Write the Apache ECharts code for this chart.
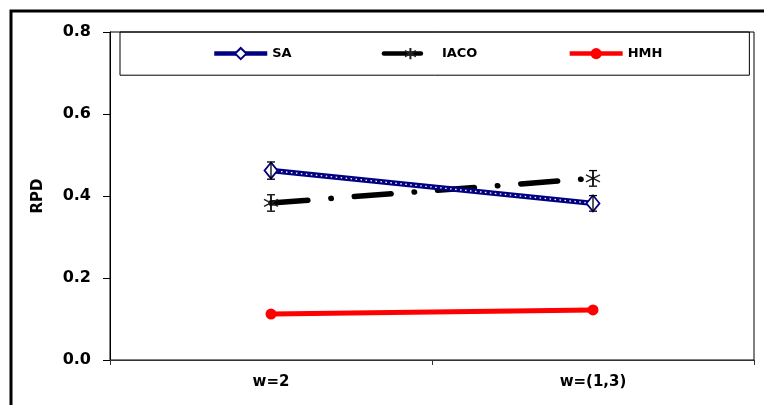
<!DOCTYPE html>
<html>
<head>
<meta charset="utf-8">
<script src="https://cdn.jsdelivr.net/npm/echarts@6/dist/echarts.min.js"></script>
<style>
  html, body { margin: 0; padding: 0; background: #fff; }
  #chart { width: 764px; height: 405px; }
</style>
</head>
<body>
<div id="chart"></div>
<script>
// data
const categories = ['w=2', 'w=(1,3)'];
const saValues = [0.462, 0.382];
const saErr = [0.021, 0.019];
const iacoValues = [0.383, 0.443];
const iacoErr = [0.02, 0.019];
const hmhValues = [0.112, 0.122];
const yTicks = [0, 0.2, 0.4, 0.6, 0.8];

const FONT = 'DejaVu Sans, Verdana, sans-serif';
const ASTERISK = 'path://M0,-10L0,10M-8.66,-5L8.66,5M-8.66,5L8.66,-5';

// error bars drawn through the axes
function errorBars(values, errs) {
  return {
    type: 'custom',
    silent: true,
    z: 5,
    data: values.map((v, i) => [i, v - errs[i], v + errs[i]]),
    renderItem: (params, api) => {
      const lo = api.coord([api.value(0), api.value(1)]);
      const hi = api.coord([api.value(0), api.value(2)]);
      const cap = 4;
      const st = { stroke: '#000', lineWidth: 1.3 };
      return {
        type: 'group',
        children: [
          { type: 'line', shape: { x1: lo[0], y1: lo[1], x2: hi[0], y2: hi[1] }, style: st },
          { type: 'line', shape: { x1: lo[0] - cap, y1: lo[1], x2: lo[0] + cap, y2: lo[1] }, style: st },
          { type: 'line', shape: { x1: hi[0] - cap, y1: hi[1], x2: hi[0] + cap, y2: hi[1] }, style: st }
        ]
      };
    }
  };
}

const chart = echarts.init(document.getElementById('chart'), null, { renderer: 'canvas' });

chart.setOption({
  animation: false,
  backgroundColor: '#fff',
  graphic: [{
    type: 'rect',
    shape: { x: 11, y: 11, width: 800, height: 450 },
    style: { fill: 'none', stroke: '#000', lineWidth: 3 },
    silent: true
  }],
  grid: {
    left: 110, right: 10, top: 32, bottom: 45,
    show: true, borderColor: '#000', borderWidth: 1
  },
  legend: {
    data: ['SA', 'IACO', 'HMH'],
    left: 120, top: 32,
    padding: [15, 87, 15, 92],
    itemWidth: 53, itemHeight: 14, itemGap: 90,
    borderColor: '#000', borderWidth: 1,
    lineStyle: { width: 4.5 },
    textStyle: { fontFamily: FONT, fontWeight: 'bold', fontSize: 13, color: '#000' }
  },
  xAxis: {
    type: 'category',
    data: categories,
    boundaryGap: true,
    axisLine: { lineStyle: { color: '#333', width: 1 } },
    axisTick: { show: true, length: 5, interval: 0, lineStyle: { color: '#333' } },
    axisLabel: { fontFamily: FONT, fontWeight: 'bold', fontSize: 15, color: '#000', margin: 15 },
    splitLine: { show: false }
  },
  yAxis: {
    type: 'value',
    min: yTicks[0], max: yTicks[yTicks.length - 1], interval: 0.2,
    name: 'RPD',
    nameLocation: 'middle',
    nameRotate: 90,
    nameGap: 64,
    nameTextStyle: { fontFamily: FONT, fontWeight: 'bold', fontSize: 15, color: '#000' },
    axisLine: { show: true, lineStyle: { color: '#000', width: 1 } },
    axisTick: { show: true, length: 7, lineStyle: { color: '#000' } },
    axisLabel: {
      fontFamily: FONT, fontWeight: 'bold', fontSize: 16, color: '#000', margin: 19,
      formatter: v => v.toFixed(1)
    },
    splitLine: { show: false }
  },
  series: [
    errorBars(saValues, saErr),
    errorBars(iacoValues, iacoErr),
    {
      name: 'SA',
      type: 'line',
      data: saValues,
      z: 3,
      lineStyle: { color: '#000080', width: 5.5 },
      symbol: 'diamond',
      symbolSize: [13, 16],
      itemStyle: { color: '#fff', borderColor: '#000080', borderWidth: 1.8 }
    },
    {
      // white dotted pattern running along the SA line
      name: 'SA-pattern',
      type: 'line',
      data: saValues,
      z: 3,
      silent: true,
      showSymbol: false,
      lineStyle: { color: '#fff', width: 1.3, type: [1.5, 3.5] }
    },
    {
      name: 'IACO',
      type: 'line',
      data: iacoValues,
      z: 2,
      lineStyle: { color: '#000', width: 5.5, type: [37, 23, 0.5, 23], cap: 'round' },
      symbol: ASTERISK,
      symbolSize: 14,
      itemStyle: { color: '#000', borderColor: '#222', borderWidth: 1.4 }
    },
    {
      name: 'HMH',
      type: 'line',
      data: hmhValues,
      z: 2,
      lineStyle: { color: '#ff0000', width: 5 },
      symbol: 'circle',
      symbolSize: 11,
      itemStyle: { color: '#ff0000', borderWidth: 0 }
    }
  ]
});
</script>
</body>
</html>
